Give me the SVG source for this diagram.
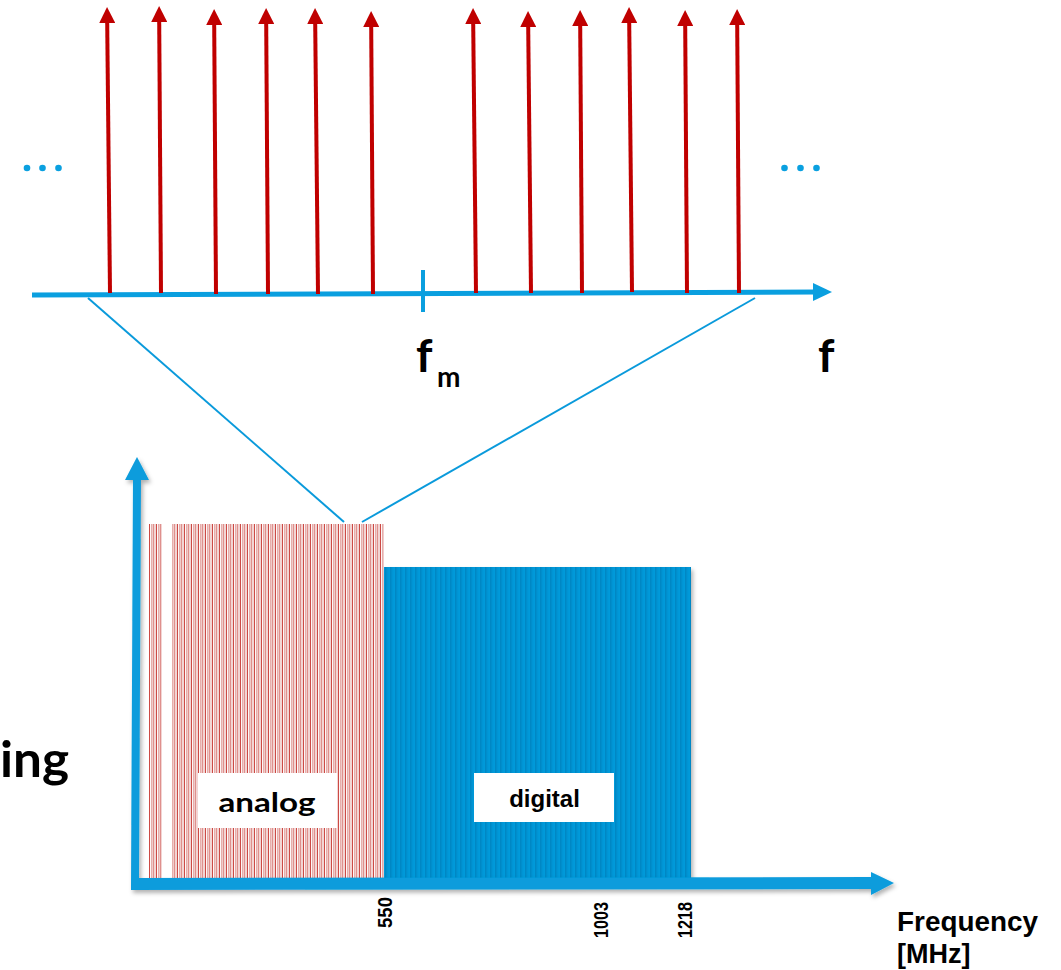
<svg xmlns="http://www.w3.org/2000/svg" width="1061" height="970" viewBox="0 0 1061 970">
  <style>
    .carrier { stroke: #C00000; stroke-width: 4; fill: none; marker-end: url(#redHead); }
    .axisTop { stroke: #0A9FDF; stroke-width: 5; fill: none; }
    .zoom { stroke: #0A9ADB; stroke-width: 2; fill: none; }
    .dot { fill: #0AA0E0; }
    .sym { font-family: Lato, "Open Sans", "Liberation Sans", sans-serif; font-weight: 700; fill: #000; }
    .lbl { font-family: "Liberation Sans", Arial, sans-serif; font-weight: 700; fill: #000; }
    .axis { fill: #0A9CDC; }
  </style>
  <defs>
    <marker id="redHead" markerUnits="userSpaceOnUse" markerWidth="17" markerHeight="16" refX="0" refY="8" orient="auto">
      <path d="M0,0 L16,8 L0,16 z" fill="#C00000"/>
    </marker>
    <pattern id="analogStripes" patternUnits="userSpaceOnUse" x="149" y="0" width="7" height="10">
      <rect x="0" y="0" width="1" height="10" fill="#CC4A45"/>
      <rect x="1.9" y="0" width="1.4" height="10" fill="#E6ADAB"/>
      <rect x="3.8" y="0" width="0.9" height="10" fill="#D2605C"/>
      <rect x="5.4" y="0" width="1.2" height="10" fill="#EABAB8"/>
    </pattern>
    <pattern id="digitalStripes" patternUnits="userSpaceOnUse" x="384" y="0" width="5" height="10">
      <rect x="0" y="0" width="5" height="10" fill="#009ADA"/>
      <rect x="1" y="0" width="1.6" height="10" fill="#0087C4"/>
      <rect x="3.4" y="0" width="0.8" height="10" fill="#0091D0"/>
    </pattern>
    <filter id="shadow" x="-10%" y="-10%" width="130%" height="130%">
      <feDropShadow dx="2" dy="3" stdDeviation="2" flood-color="#000" flood-opacity="0.3"/>
    </filter>
  </defs>

  <!-- zoomed spectrum: frequency axis, carriers and labels -->
  <g id="spectrum-axis">
    <line class="axisTop" x1="32" y1="295" x2="816" y2="292"/>
    <path d="M813,283 L832,292 L813,301 z" fill="#0A9FDF"/>
    <line x1="423" y1="270" x2="423" y2="312" stroke="#0A9FDF" stroke-width="4"/>
  </g>

  <g id="carriers">
    <line class="carrier" x1="110" y1="293" x2="107.2" y2="23"/>
    <line class="carrier" x1="161" y1="293" x2="159.2" y2="22"/>
    <line class="carrier" x1="216" y1="294" x2="214.2" y2="25"/>
    <line class="carrier" x1="268" y1="294" x2="266.2" y2="24"/>
    <line class="carrier" x1="318" y1="294" x2="315.2" y2="24"/>
    <line class="carrier" x1="373" y1="294" x2="371.2" y2="27"/>
    <line class="carrier" x1="476" y1="293" x2="473.2" y2="24"/>
    <line class="carrier" x1="531" y1="293" x2="528.2" y2="27"/>
    <line class="carrier" x1="582" y1="293" x2="580.2" y2="26"/>
    <line class="carrier" x1="632" y1="292" x2="629.2" y2="23"/>
    <line class="carrier" x1="687" y1="293" x2="685.2" y2="26"/>
    <line class="carrier" x1="739" y1="293" x2="737.2" y2="25"/>
  </g>

  <g id="ellipsis-left">
    <circle class="dot" cx="27" cy="168" r="3.3"/>
    <circle class="dot" cx="42.5" cy="168" r="3.3"/>
    <circle class="dot" cx="58.5" cy="168" r="3.3"/>
  </g>
  <g id="ellipsis-right">
    <circle class="dot" cx="784.5" cy="168" r="3.3"/>
    <circle class="dot" cx="800.5" cy="168" r="3.3"/>
    <circle class="dot" cx="816.5" cy="168" r="3.3"/>
  </g>

  <g id="label-fm">
    <text class="sym" x="416" y="372" font-size="46">f<tspan x="437" y="387" font-size="28">m</tspan></text>
  </g>
  <g id="label-f">
    <text class="sym" x="818" y="372" font-size="46">f</text>
  </g>

  <!-- zoom lines from the spectrum to the analog band -->
  <g id="connectors">
    <line class="zoom" x1="88" y1="298" x2="344" y2="522"/>
    <line class="zoom" x1="755" y1="298" x2="362" y2="522"/>
  </g>

  <!-- cable spectrum chart -->
  <g id="band-analog">
    <rect x="149" y="524" width="13" height="358" fill="url(#analogStripes)"/>
    <rect x="172" y="524" width="212" height="358" fill="url(#analogStripes)"/>
  </g>

  <g id="band-digital">
    <rect x="384" y="567" width="307" height="315" fill="url(#digitalStripes)" filter="url(#shadow)"/>
  </g>

  <g id="chart-axes" filter="url(#shadow)">
    <path class="axis" d="M131,886 L133,480 L125,480 L137,457 L149,480 L141,480 L139,878 L871,877 L871,872 L894,883 L871,895 L871,889 L131,890 z"/>
  </g>

  <g id="label-analog">
    <rect x="198" y="773" width="139" height="55" fill="#FFFFFF"/>
    <text class="sym" x="267" y="812" font-size="27" text-anchor="middle" textLength="97" lengthAdjust="spacingAndGlyphs">analog</text>
  </g>

  <g id="label-digital">
    <rect x="474" y="773" width="140" height="49" fill="#FFFFFF"/>
    <text class="lbl" x="544.5" y="807" font-size="24" text-anchor="middle">digital</text>
  </g>

  <g id="label-ing">
    <text class="sym" x="0" y="777" font-size="50" textLength="69" lengthAdjust="spacingAndGlyphs">ing</text>
  </g>

  <g id="ticks">
    <text class="lbl" font-size="20" transform="translate(392,928) rotate(-90)" textLength="31" lengthAdjust="spacingAndGlyphs">550</text>
    <text class="lbl" font-size="20" transform="translate(608,938) rotate(-90)" textLength="36" lengthAdjust="spacingAndGlyphs">1003</text>
    <text class="lbl" font-size="20" transform="translate(692,938) rotate(-90)" textLength="36" lengthAdjust="spacingAndGlyphs">1218</text>
  </g>

  <g id="label-frequency">
    <text class="lbl" x="897" y="931" font-size="27" textLength="141" lengthAdjust="spacingAndGlyphs">Frequency</text>
    <text class="lbl" x="897" y="963" font-size="27">[MHz]</text>
  </g>
</svg>
